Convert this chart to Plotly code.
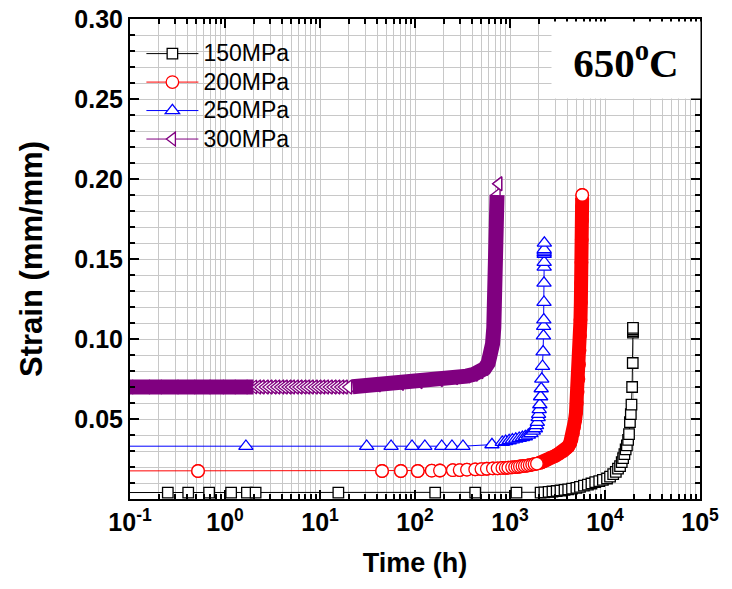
import plotly.graph_objects as go

# ---------------- data ----------------
t150 = [0.01, 0.25, 0.41, 0.68, 1.16, 1.7, 2.1, 15.6, 163, 430, 1170,
        2100, 2300, 2550, 2800, 3100, 3400, 3750, 4100, 4500, 5000,
        5450, 6000, 6600, 7200, 7900, 8700, 9500, 10500, 11300, 12200,
        13000, 13700, 14400, 15000, 15500, 16000, 16500, 17000, 17500, 17900,
        18300, 18700, 19000, 19300, 19600, 19700, 19700, 19700, 19700]
s150 = [0.004, 0.004, 0.004, 0.004, 0.004, 0.004, 0.004, 0.004, 0.004, 0.004, 0.004,
        0.004, 0.0042, 0.0045, 0.0047, 0.005, 0.0053, 0.0057, 0.006, 0.0065, 0.007,
        0.0076, 0.0083, 0.009, 0.0097, 0.0105, 0.0112, 0.012, 0.0128, 0.014, 0.0155,
        0.017, 0.019, 0.0205, 0.023, 0.0255, 0.028, 0.031, 0.0335, 0.037, 0.0405,
        0.048, 0.053, 0.059, 0.070, 0.085, 0.104, 0.105, 0.106, 0.107]

t200 = [0.01, 0.52, 45, 71, 107, 150, 183, 250, 295, 352,
        430, 500, 570, 660, 740, 830, 900, 960, 1050, 1130,
        1200, 1270, 1350, 1430, 1520, 1610, 1710, 1810, 1920, 2040,
        2150, 2300, 2450, 2700, 3000, 3300, 3650, 3900, 4100, 4300,
        4450, 4600, 4720, 4830, 4950, 5050, 5150, 5250, 5330, 5400,
        5460, 5520, 5570, 5610, 5650, 5690, 5720, 5740, 5750, 5760]
s200 = [0.0175, 0.0175, 0.0175, 0.0175, 0.0175, 0.0177, 0.0178, 0.018, 0.0181, 0.0183,
        0.0185, 0.0187, 0.0189, 0.0191, 0.0192, 0.0194, 0.0195, 0.0196, 0.0198, 0.0199,
        0.0201, 0.0203, 0.0205, 0.0207, 0.0209, 0.0212, 0.0215, 0.0218, 0.0221, 0.0225,
        0.0229, 0.0236, 0.0245, 0.0258, 0.027, 0.0285, 0.030, 0.0315, 0.0328, 0.035,
        0.0375, 0.041, 0.045, 0.049, 0.054, 0.060, 0.067, 0.075, 0.084, 0.093,
        0.102, 0.112, 0.123, 0.135, 0.148, 0.162, 0.174, 0.183, 0.188, 0.19]

t250 = [0.01, 1.66, 31, 56, 93, 127, 191, 245, 320, 646,
        830, 900, 980, 1060, 1150, 1250, 1350, 1450, 1560, 1660,
        1760, 1850, 1900, 1940, 1980, 2000, 2030, 2060, 2100, 2130,
        2160, 2200, 2230, 2250, 2260, 2270, 2280, 2280, 2290, 2290,
        2290, 2290, 2290, 2290, 2300]
s250 = [0.033, 0.033, 0.033, 0.033, 0.033, 0.033, 0.033, 0.033, 0.033, 0.034,
        0.0355, 0.036, 0.0365, 0.037, 0.0375, 0.038, 0.0385, 0.039, 0.040, 0.041,
        0.0425, 0.044, 0.046, 0.048, 0.051, 0.053, 0.056, 0.059, 0.064, 0.069,
        0.075, 0.083, 0.092, 0.102, 0.108, 0.112, 0.123, 0.135, 0.145, 0.148,
        0.153, 0.154, 0.155, 0.156, 0.160]

t300 = [0.01, 0.1, 0.15, 0.2, 0.3, 0.45, 0.65, 0.9, 1.2, 1.6,
        2.0, 2.2, 2.4, 2.65, 2.9, 3.2, 3.5, 3.85, 4.2, 4.6,
        5.0, 5.5, 6.0, 6.6, 7.2, 7.9, 8.7, 9.5, 10.4, 11.4,
        12.5, 13.7, 15.0, 16.5, 18.0, 20.0,
        22, 40, 70, 110, 180, 260, 350, 420, 480, 540,
        590, 630, 655, 675, 690, 700, 710, 718, 725, 730, 760]
s300 = [0.070, 0.070, 0.070, 0.070, 0.070, 0.070, 0.070, 0.070, 0.070, 0.070,
        0.070, 0.070, 0.070, 0.070, 0.070, 0.070, 0.070, 0.070, 0.070, 0.070,
        0.070, 0.070, 0.070, 0.070, 0.070, 0.070, 0.070, 0.070, 0.070, 0.070,
        0.070, 0.070, 0.070, 0.070, 0.070, 0.070,
        0.0702, 0.0712, 0.0722, 0.0732, 0.0745, 0.0757, 0.0768, 0.078, 0.0795, 0.0815,
        0.085, 0.09, 0.097, 0.107, 0.12, 0.135, 0.15, 0.165, 0.18, 0.19, 0.197]

series_names = ["150MPa", "200MPa", "250MPa", "300MPa"]

x_tick_vals = [0.1, 1, 10, 100, 1000, 10000, 100000]
x_tick_text = ["10<sup>-1</sup>", "10<sup>0</sup>", "10<sup>1</sup>", "10<sup>2</sup>",
               "10<sup>3</sup>", "10<sup>4</sup>", "10<sup>5</sup>"]
y_tick_vals = [0.05, 0.10, 0.15, 0.20, 0.25, 0.30]
y_tick_text = ["0.05", "0.10", "0.15", "0.20", "0.25", "0.30"]

# ---------------- styling ----------------
colors = ["#000000", "#ff0000", "#0000ff", "#800080"]
symbols = ["square", "circle", "triangle-up", "triangle-left"]
msizes = [10.5, 12.5, 12.5, 12]
band_widths = [None, 14, None, 15]
# time windows in which the measured points are so dense they merge into a solid band
band_windows = [[], [(2040, 5750)], [], [(0.01, 2.0), (22, 730)]]

data = [(t150, s150), (t200, s200), (t250, s250), (t300, s300)]

fig = go.Figure()
for i, (tt, ss) in enumerate(data):
    c = colors[i]
    marker = dict(symbol=symbols[i], size=msizes[i], color="white",
                  line=dict(color=c, width=1.3))
    fig.add_trace(go.Scatter(x=tt, y=ss, mode="lines+markers",
                             name='<span style="font-size:23px">%s</span>' % series_names[i],
                             line=dict(color=c, width=1), marker=marker))
    if band_windows[i]:
        inband = [any(lo <= t <= hi for lo, hi in band_windows[i]) for t in tt]
        for lo, hi in band_windows[i]:
            bx = [t for t in tt if lo <= t <= hi]
            by = [s for t, s in zip(tt, ss) if lo <= t <= hi]
            fig.add_trace(go.Scatter(x=bx, y=by, mode="lines", showlegend=False,
                                     hoverinfo="skip",
                                     line=dict(color=c, width=band_widths[i])))
        ox = [t for t, b in zip(tt, inband) if not b]
        oy = [s for s, b in zip(ss, inband) if not b]
        fig.add_trace(go.Scatter(x=ox, y=oy, mode="markers", showlegend=False,
                                 hoverinfo="skip", marker=marker))

grid_c = "#c8c8c8"
minor_x = [k * 10.0 ** e for e in range(-1, 5) for k in range(2, 10)]
minor_y = [round(0.01 * k, 2) for k in range(1, 30) if k % 5 != 0]

axis_common = dict(showline=True, linecolor="black", linewidth=2, mirror="allticks",
                   ticks="inside", ticklen=9, tickwidth=2, tickcolor="black",
                   showgrid=True, gridcolor=grid_c, gridwidth=1, zeroline=False,
                   automargin=False)

fig.update_xaxes(type="log", range=[-1, 5], tickmode="array",
                 tickvals=x_tick_vals, ticktext=x_tick_text,
                 tickfont=dict(family="Liberation Sans, Arial", size=25, color="black", weight="bold"),
                 minor=dict(tickmode="array", tickvals=minor_x, ticks="inside", ticklen=5,
                            tickwidth=2, tickcolor="black", showgrid=True,
                            gridcolor=grid_c, gridwidth=1),
                 title=dict(text="Time (h)", standoff=18,
                            font=dict(family="Liberation Sans, Arial", size=27,
                                      color="black", weight="bold")),
                 **axis_common)
fig.update_yaxes(range=[0, 0.30], tickmode="array",
                 tickvals=y_tick_vals, ticktext=y_tick_text,
                 tickfont=dict(family="Liberation Sans, Arial", size=25, color="black", weight="bold"),
                 minor=dict(tickmode="array", tickvals=minor_y, ticks="inside", ticklen=5,
                            tickwidth=2, tickcolor="black", showgrid=True,
                            gridcolor=grid_c, gridwidth=1),
                 title=dict(text="Strain (mm/mm)", standoff=22,
                            font=dict(family="Liberation Sans, Arial", size=31,
                                      color="black", weight="bold")),
                 **axis_common)

fig.add_annotation(xref="paper", yref="paper", x=1, y=1, xanchor="right", yanchor="top",
                   text="650<sup>o</sup>C", showarrow=False, bgcolor="white",
                   width=148, height=76, borderpad=0, yshift=-1.5, xshift=1,
                   font=dict(family="Liberation Serif, Times New Roman", size=41,
                             color="black", weight="bold"))

fig.update_layout(
    width=732, height=589,
    margin=dict(l=130, r=32, t=19, b=90),
    paper_bgcolor="white", plot_bgcolor="white",
    legend=dict(x=0.02, y=0.968, xanchor="left", yanchor="top",
                bgcolor="rgba(0,0,0,0)", borderwidth=0, itemwidth=52,
                font=dict(family="Liberation Sans, Arial", size=19.6, color="black")),
)

fig.write_html("out.html")
